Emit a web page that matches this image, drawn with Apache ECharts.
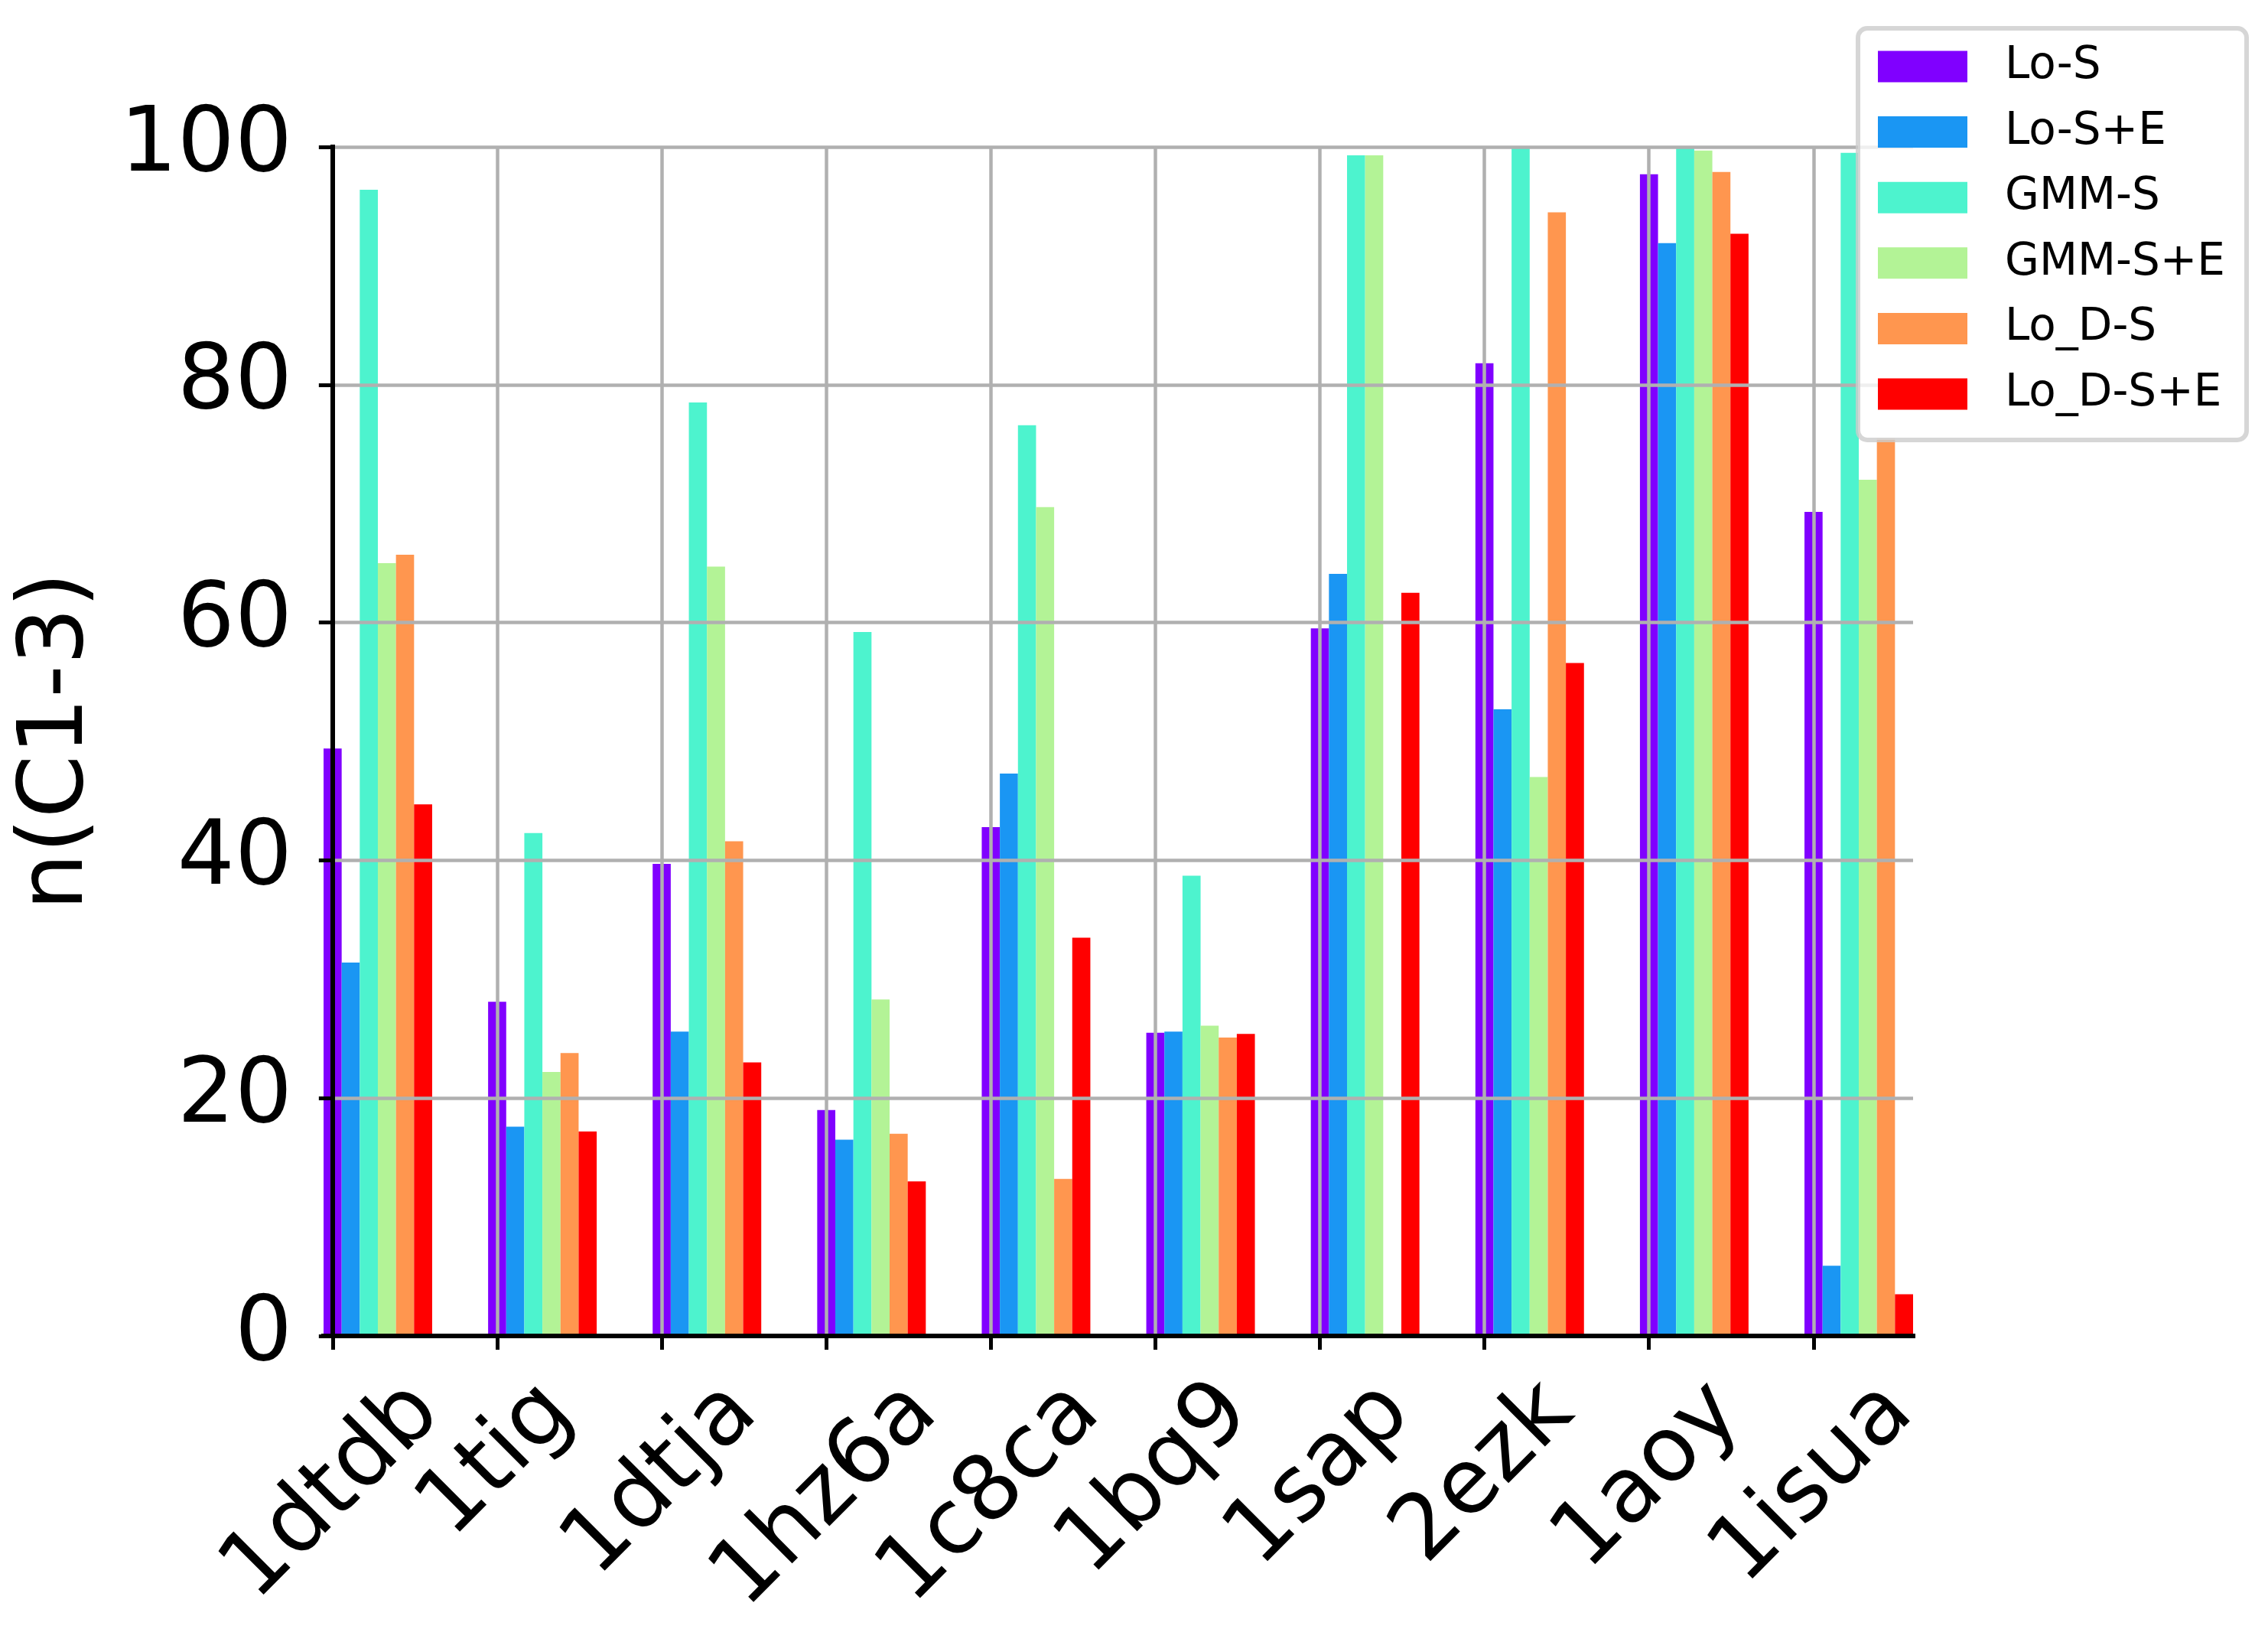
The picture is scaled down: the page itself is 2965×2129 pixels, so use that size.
<!DOCTYPE html>
<html><head><meta charset="utf-8">
<script src="https://cdn.jsdelivr.net/npm/echarts@6/dist/echarts.min.js"></script>
<style>html,body{margin:0;padding:0;background:#fff}#c{width:2965px;height:2129px}</style>
</head><body><div id="c"></div>
<script>
// ---- data ----
const categories = ['1dtdb','1tig','1dtja','1hz6a','1c8ca','1bq9','1sap','2ezk','1aoy','1isua'];
const seriesNames = ['Lo-S','Lo-S+E','GMM-S','GMM-S+E','Lo_D-S','Lo_D-S+E'];
const loS   = [49.4, 28.1, 39.7, 19.0, 42.8, 25.5, 59.5, 81.8, 97.7, 69.3];
const loSE  = [31.4, 17.6, 25.6, 16.5, 47.3, 25.6, 64.1, 52.7, 91.9, 5.9];
const gmmS  = [96.4, 42.3, 78.5, 59.2, 76.6, 38.7, 99.3, 100.0, 100.0, 99.5];
const gmmSE = [65.0, 22.2, 64.7, 28.3, 69.7, 26.1, 99.3, 47.0, 99.7, 72.0];
const loDS  = [65.7, 23.8, 41.6, 17.0, 13.2, 25.1, 0.0, 94.5, 97.9, 75.5];
const loDSE = [44.7, 17.2, 23.0, 13.0, 33.5, 25.4, 62.5, 56.6, 92.7, 3.5];
const yTicks = [0, 20, 40, 60, 80, 100];
const yTitle = 'n(C1-3)';

// ---- style ----
const allValues = [loS, loSE, gmmS, gmmSE, loDS, loDSE];
const colors = ['#8000ff', '#1a96f3', '#4df3ce', '#b3f396', '#ff964f', '#ff0000'];
const BAR_W = 0.11;
const FONT = 'DejaVu Sans';
const TICK_FS = 118;
const catIdx = categories.map((_, i) => i);

// measure label widths to mimic centered rotated labels
const cv = document.createElement('canvas').getContext('2d');
cv.font = TICK_FS + 'px "' + FONT + '"';
const rich = {};
categories.forEach((c, i) => {
  const w = cv.measureText(c).width;
  const p = Math.round(w / 2);
  rich['l' + i] = {fontSize: TICK_FS, fontFamily: FONT, color: '#000', padding: [p, p, 0, 0]};
});

function makeRender(k) {
  return function (params, api) {
    const i = api.value(0), v = api.value(1);
    const x0 = i + k * BAR_W - BAR_W / 2;
    const p0 = api.coord([x0, v]);
    const p1 = api.coord([x0 + BAR_W, 0]);
    return {type: 'rect', shape: {x: p0[0], y: p0[1], width: p1[0] - p0[0], height: p1[1] - p0[1]},
            style: {fill: colors[k]}};
  };
}

const series = seriesNames.map((name, k) => ({
  name: name, type: 'custom', clip: true, z: 2,
  itemStyle: {color: colors[k]},
  encode: {x: 0, y: 1},
  renderItem: makeRender(k),
  data: allValues[k].map((v, i) => [i, v])
}));

const spine = {show: true, lineStyle: {color: '#000', width: 6, cap: 'square'}};
const xMin = -BAR_W / 2, xMax = categories.length - 1 + (seriesNames.length - 1) * BAR_W + BAR_W / 2;

const option = {
  animation: false,
  backgroundColor: '#fff',
  grid: {left: 423, right: 464, top: 192, bottom: 383},
  legend: {
    orient: 'vertical', left: 2429, top: 37, z: 10,
    data: seriesNames,
    icon: 'rect', itemWidth: 117, itemHeight: 41, itemGap: 27.6,
    padding: [21, 28, 31, 26],
    backgroundColor: 'rgba(255,255,255,0.8)',
    borderColor: 'rgba(204,204,204,0.8)', borderWidth: 6, borderRadius: 12,
    textStyle: {fontSize: 58, fontFamily: FONT, color: '#000', lineHeight: 58, padding: [0, 0, 0, 44]}
  },
  xAxis: [{
    type: 'value', min: xMin, max: xMax, position: 'bottom', z: 4,
    axisLine: spine,
    axisTick: {show: true, customValues: catIdx, length: 18, lineStyle: {color: '#000', width: 5}},
    axisLabel: {
      customValues: catIdx, rotate: 45, align: 'center', verticalAlign: 'middle', margin: 82,
      fontSize: TICK_FS, fontFamily: FONT, color: '#000', rich: rich,
      formatter: v => '{l' + Math.round(v) + '|' + categories[Math.round(v)] + '}'
    },
    splitLine: {show: true, lineStyle: {color: '#b0b0b0', width: 4.5}}
  }, {
    type: 'value', min: xMin, max: xMax, position: 'top', z: 6,
    axisLine: spine, axisTick: {show: false}, axisLabel: {show: false}, splitLine: {show: false}
  }],
  yAxis: [{
    type: 'value', min: yTicks[0], max: yTicks[yTicks.length - 1], interval: yTicks[1] - yTicks[0], z: 3,
    position: 'left',
    name: yTitle, nameLocation: 'middle', nameGap: 288, nameRotate: 90,
    nameTextStyle: {fontSize: TICK_FS, fontFamily: FONT, color: '#000'},
    axisLine: spine,
    axisTick: {show: true, length: 18, lineStyle: {color: '#000', width: 5}},
    axisLabel: {fontSize: TICK_FS, fontFamily: FONT, color: '#000', margin: 41},
    splitLine: {show: true, lineStyle: {color: '#b0b0b0', width: 4.5}}
  }, {
    type: 'value', min: yTicks[0], max: yTicks[yTicks.length - 1], interval: yTicks[1] - yTicks[0], z: 6,
    position: 'right',
    axisLine: spine, axisTick: {show: false}, axisLabel: {show: false}, splitLine: {show: false}
  }],
  series: series
};

const chart = echarts.init(document.getElementById('c'), null, {renderer: 'canvas'});
chart.setOption(option);
</script>
</body></html>
